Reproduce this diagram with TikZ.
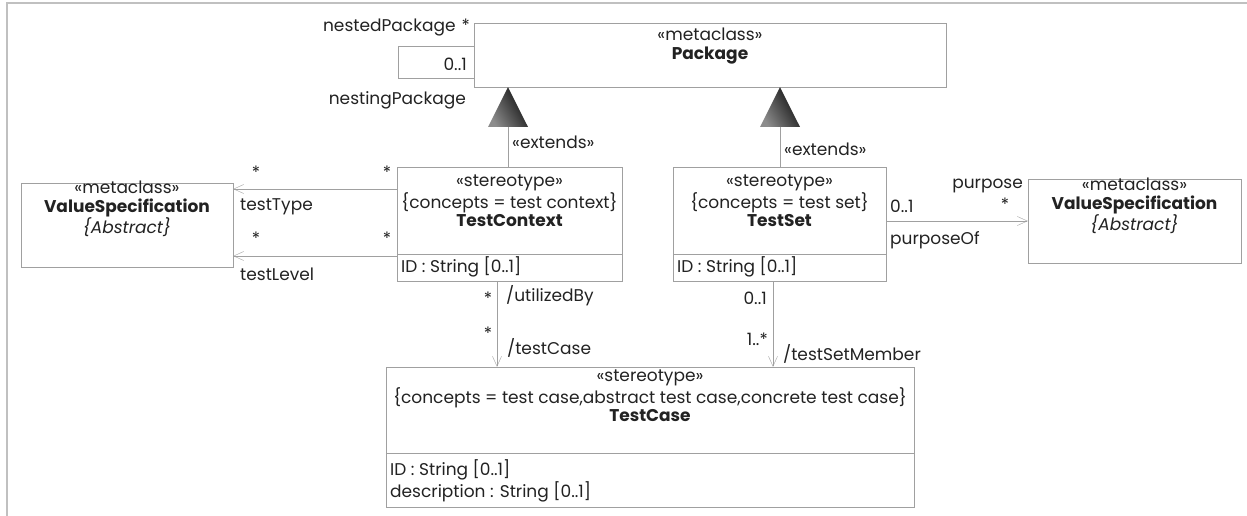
\documentclass[tikz,border=0pt]{standalone}
\usepackage{fontspec}
\setmainfont{Poppins}
\usetikzlibrary{arrows.meta, positioning}
\definecolor{umlline}{HTML}{A0A0A0}
\definecolor{umltext}{HTML}{222222}
\definecolor{framegray}{HTML}{C0C0C0}
\newcommand{\umlfont}{\fontsize{17}{18.5}\selectfont}
\tikzstyle{classbox} = [rectangle, draw=umlline, fill=white, inner sep=0pt]
\tikzstyle{classtext} = [align=center, inner sep=0pt]
\tikzstyle{roletext} = [inner sep=0pt]
\tikzstyle{assoc} = [draw=umlline, -{Straight Barb[length=10pt,width=9pt]}]
\tikzstyle{plainline} = [draw=umlline]
\tikzstyle{genhead} = [draw=none, left color=black!45, right color=black!95, shading angle=120]

\begin{document}
\begin{tikzpicture}[x=1pt, y=-1pt, font=\umlfont, text=umltext]
\useasboundingbox (0,0) rectangle (1247,516);
\draw[framegray, line width=1.5pt] (7,516) -- (7,3) -- (1247,3);

% classes
\node (pkg) [classbox, minimum width=472pt, minimum height=64pt] at (710,55) {};
\node (pkgtxt) [classtext] at (710,46) {«metaclass»\\\textbf{Package}};

\node (vsl) [classbox, minimum width=212pt, minimum height=84pt] at (127,225) {};
\node (vsltxt) [classtext] at (127,209) {«metaclass»\\\textbf{ValueSpecification}\\\textit{\{Abstract\}}};

\node (vsr) [classbox, minimum width=213pt, minimum height=84pt] at (1134.5,221) {};
\node (vsrtxt) [classtext] at (1134.5,206) {«metaclass»\\\textbf{ValueSpecification}\\\textit{\{Abstract\}}};

\node (tcx) [classbox, minimum width=225pt, minimum height=114pt] at (509.5,224) {};
\node (tcxtxt) [classtext] at (509.5,201) {«stereotype»\\\{concepts = test context\}\\\textbf{TestContext}};
\draw[plainline] (tcx.west |- 0,254) -- (tcx.east |- 0,254);
\node (tcxid) [roletext, anchor=west] at (401,267) {ID : String [0..1]};

\node (tset) [classbox, minimum width=213pt, minimum height=114pt] at (779.5,224) {};
\node (tsettxt) [classtext] at (779.5,201) {«stereotype»\\\{concepts = test set\}\\\textbf{TestSet}};
\draw[plainline] (tset.west |- 0,254) -- (tset.east |- 0,254);
\node (tsetid) [roletext, anchor=west] at (677,267) {ID : String [0..1]};

\node (tcase) [classbox, minimum width=528pt, minimum height=140pt] at (650,437) {};
\node (tcasetxt) [classtext] at (650,396) {«stereotype»\\\{concepts = test case,abstract test case,concrete test case\}\\\textbf{TestCase}};
\draw[plainline] (tcase.west |- 0,453) -- (tcase.east |- 0,453);
\node (tcaseid) [roletext, anchor=west] at (390,470) {ID : String [0..1]};
\node (tcasedesc) [roletext, anchor=west] at (390,492) {description : String [0..1]};

% nesting of packages
\coordinate (nestA) at (398,46);
\coordinate (nestB) at (398,78);
\draw[plainline] (pkg.west |- nestA) -- (nestA) -- (nestB) -- (pkg.west |- nestB);
\node (nested) [roletext, anchor=east] at (470,28) {nestedPackage\hspace{6pt}*};
\node (nestmul) [roletext, anchor=east] at (467,64) {0..1};
\node (nesting) [roletext, anchor=east] at (466,100) {nestingPackage};

% extensions
\coordinate (genL) at (508,127);
\coordinate (genR) at (780,127);
\shade[genhead] (pkg.south -| genL) -- ([xshift=20pt]genL) -- ([xshift=-20pt]genL) -- cycle;
\shade[genhead] (pkg.south -| genR) -- ([xshift=20pt]genR) -- ([xshift=-20pt]genR) -- cycle;
\draw[plainline] (tcx.north -| genL) -- (genL);
\draw[plainline] (tset.north -| genR) -- (genR);
\node (extL) [roletext, anchor=west] at (512,142) {«extends»};
\node (extR) [roletext, anchor=west] at (784,149) {«extends»};

% associations
\draw[assoc] (tcx.west |- 0,189) -- (vsl.east |- 0,189);
\node [roletext] at (256,172) {*};
\node [roletext] at (387,172) {*};
\node (ttype) [roletext, anchor=west] at (240,207) {testType};

\draw[assoc] (tcx.west |- 0,256) -- (vsl.east |- 0,256);
\node [roletext] at (256,238) {*};
\node [roletext] at (387,238) {*};
\node (tlevel) [roletext, anchor=west] at (240,274) {testLevel};

\draw[assoc] (tset.east |- 0,221) -- (vsr.west |- 0,221);
\node [roletext, anchor=west] at (890,206) {0..1};
\node (purp) [roletext, anchor=east] at (1023,186) {purpose};
\node [roletext] at (1005,204) {*};
\node (purpof) [roletext, anchor=west] at (890,240) {purposeOf};

\draw[assoc] (tcx.south -| 497,0) -- (tcase.north -| 497,0);
\node [roletext] at (488,298) {*};
\node (utilby) [roletext, anchor=west] at (506,296) {/utilizedBy};
\node [roletext] at (488,333) {*};
\node (tcaserole) [roletext, anchor=west] at (507,348) {/testCase};

\draw[assoc] (tset.south -| 773,0) -- (tcase.north -| 773,0);
\node [roletext, anchor=east] at (767,298) {0..1};
\node [roletext, anchor=east] at (768,339) {1..*};
\node (member) [roletext, anchor=west] at (783,354) {/testSetMember};

\end{tikzpicture}
\end{document}
